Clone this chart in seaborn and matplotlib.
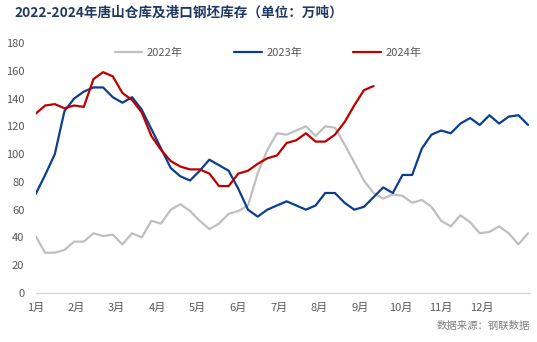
import numpy as np
import pandas as pd
import matplotlib
matplotlib.use("Agg")
import matplotlib.pyplot as plt
import seaborn as sns

# ---- data (weekly) ----
months = ["1月", "2月", "3月", "4月", "5月", "6月", "7月", "8月", "9月", "10月", "11月", "12月"]
y2022 = [41, 29, 29, 31, 37, 37, 43, 41, 42, 35,
         43, 40, 52, 50, 60, 64, 59, 52, 46, 50,
         57, 59, 63, 86, 103, 115, 114, 117, 120, 113,
         120, 119, 107, 94, 81, 72, 68, 71, 70, 65,
         67, 62, 52, 48, 56, 51, 43, 44, 48, 43,
         35, 43]
y2023 = [71, 85, 100, 131, 140, 145, 148, 148, 141, 137,
         141, 132, 118, 104, 90, 84, 81, 88, 96, 92,
         88, 75, 60, 55, 60, 63, 66, 63, 60, 63,
         72, 72, 65, 60, 62, 69, 76, 72, 85, 85,
         104, 114, 117, 115, 122, 126, 121, 128, 122, 127,
         128, 121]
y2024 = [129, 135, 136, 133, 135, 134, 154, 159, 156, 144,
         139, 130, 113, 103, 95, 91, 89, 89, 86, 77,
         77, 86, 88, 93, 97, 99, 108, 110, 115, 109,
         109, 114, 123, 135, 146, 149]
series_names = ["2022年", "2023年", "2024年"]
yticks = [0, 20, 40, 60, 80, 100, 120, 140, 160, 180]

frames = []
for name, vals in zip(series_names, [y2022, y2023, y2024]):
    frames.append(pd.DataFrame({"week": np.arange(len(vals)), "value": vals, "year": name}))
df = pd.concat(frames, ignore_index=True)

sns.set_style("white")
plt.rcParams["font.family"] = ["Noto Sans CJK SC", "DejaVu Sans"]

fig = plt.figure(figsize=(5.37, 3.42), dpi=100)
ax = fig.add_axes([35.5 / 537, 49 / 342, 494.5 / 537, 250 / 342])

palette = {"2022年": "#BFBFBF", "2023年": "#0B3F8C", "2024年": "#C00000"}
sns.lineplot(data=df, x="week", y="value", hue="year", palette=palette,
             linewidth=1.6, ax=ax, legend=True)

ax.set_xlim(0, 51.2)
ax.set_ylim(0, 180)
ax.set_yticks(yticks)
ax.set_yticklabels([str(v) for v in yticks])
ax.set_xticks(np.arange(12) * 4.2)
ax.set_xticklabels(months)
ax.set_xlabel("")
ax.set_ylabel("")

for s in ["top", "right", "left"]:
    ax.spines[s].set_visible(False)
ax.spines["bottom"].set_color("#D9D9D9")
ax.spines["bottom"].set_linewidth(1)
ax.tick_params(axis="x", length=4, color="#D9D9D9", width=1, labelsize=8,
               labelcolor="#595959", pad=3)
ax.tick_params(axis="y", length=0, labelsize=8, labelcolor="#595959", pad=8)
ax.grid(False)

leg = ax.legend(loc="center", bbox_to_anchor=(0.47, 0.96), ncol=3, frameon=False,
                fontsize=8, handlelength=2.5, columnspacing=4.6, handletextpad=0.4)
for t in leg.get_texts():
    t.set_color("#595959")

fig.text(14 / 537, 1 - 13 / 342, "2022-2024年唐山仓库及港口钢坯库存（单位：万吨）",
         fontsize=9.8, fontweight="bold", color="#1F3864", ha="left", va="center")
fig.text(530 / 537, 1 - 326 / 342, "数据来源：钢联数据", fontsize=7.5,
         color="#7F7F7F", ha="right", va="center")

fig.savefig("out.png", dpi=100)
